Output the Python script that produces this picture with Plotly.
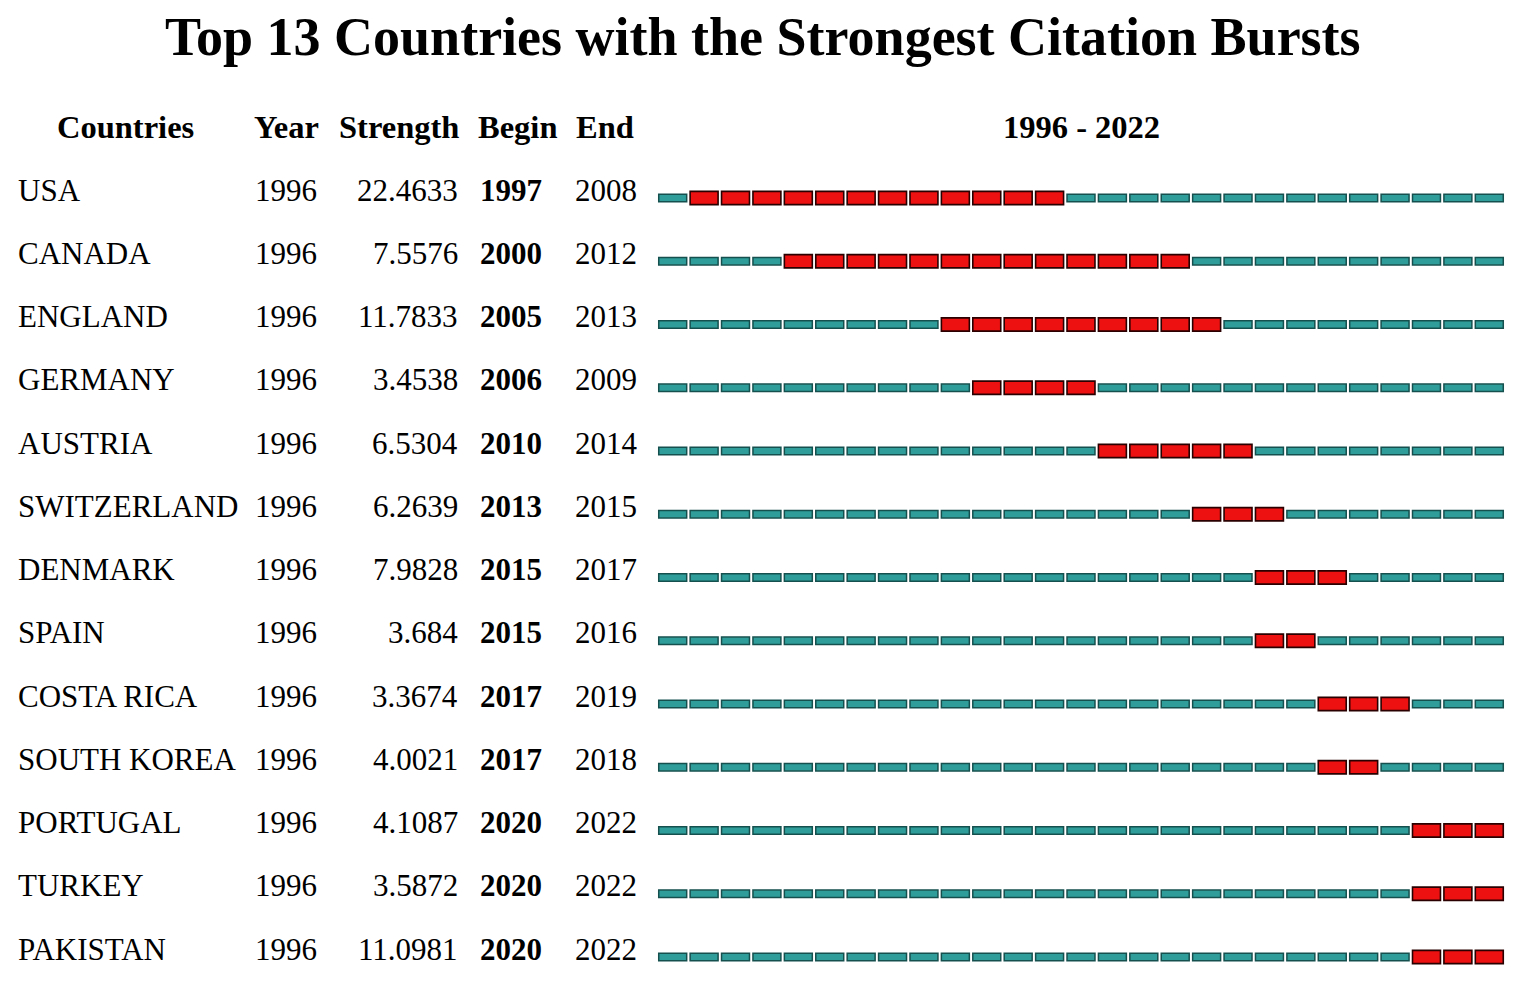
import plotly.graph_objects as go

countries = ["USA", "CANADA", "ENGLAND", "GERMANY", "AUSTRIA", "SWITZERLAND", "DENMARK",
             "SPAIN", "COSTA RICA", "SOUTH KOREA", "PORTUGAL", "TURKEY", "PAKISTAN"]
year = [1996] * 13
strength = [22.4633, 7.5576, 11.7833, 3.4538, 6.5304, 6.2639, 7.9828,
            3.684, 3.3674, 4.0021, 4.1087, 3.5872, 11.0981]
begin = [1997, 2000, 2005, 2006, 2010, 2013, 2015, 2015, 2017, 2017, 2020, 2020, 2020]
end = [2008, 2012, 2013, 2009, 2014, 2015, 2017, 2016, 2019, 2018, 2022, 2022, 2022]
span_start, span_end = 1996, 2022

OFF = 8  # page body margin
W, H = 1535 - 2 * OFF, 986 - 2 * OFF
FONT = "Liberation Serif, Times New Roman, serif"
row_px = 63.25
top_px = 198 - OFF

def px(x):
    return (x - OFF) / W

# split every year slot into burst / no-burst segments
red_x, red_y, teal_x, teal_y = [], [], [], []
for i in range(len(countries)):
    for yr in range(span_start, span_end + 1):
        if begin[i] <= yr <= end[i]:
            red_x.append(yr)
            red_y.append(i)
        else:
            teal_x.append(yr)
            teal_y.append(i)

seg = 0.89
fig = go.Figure()
fig.add_trace(go.Bar(x=[seg] * len(teal_x), base=[v - seg / 2 for v in teal_x], y=teal_y,
                     orientation="h", width=0.115,
                     marker=dict(color="#2f9e9b", line=dict(color="#15504e", width=1.5)),
                     hoverinfo="skip", showlegend=False))
fig.add_trace(go.Bar(x=[seg] * len(red_x), base=[v - seg / 2 for v in red_x], y=red_y,
                     orientation="h", width=0.21,
                     marker=dict(color="#ee1111", line=dict(color="#2a0000", width=1.6)),
                     hoverinfo="skip", showlegend=False))

fs = 31
def txt(x, y, s, anchor="left", bold=False, size=fs, ys=8):
    fig.add_annotation(x=px(x), y=y, xref="paper", yref="y", text="<b>%s</b>" % s if bold else s,
                       showarrow=False, xanchor=anchor, yanchor="middle", yshift=ys,
                       font=dict(family=FONT, size=size, color="black"))

for i in range(len(countries)):
    txt(16, i, countries[i])
    txt(286, i, str(year[i]), "center")
    txt(460, i, str(strength[i]), "right")
    txt(478, i, str(begin[i]), "left", bold=True)
    txt(606, i, str(end[i]), "center")

hy = (127 - OFF - top_px) / row_px
hs = 32.5
txt(125, hy, "Countries", "center", True, hs, 0)
txt(286, hy, "Year", "center", True, hs, 0)
txt(399, hy, "Strength", "center", True, hs, 0)
txt(517, hy, "Begin", "center", True, hs, 0)
txt(605, hy, "End", "center", True, hs, 0)
txt(1081, hy, "%d - %d" % (span_start, span_end), "center", True, hs, 0)

fig.add_annotation(x=px(763), y=1 - (37 - OFF) / H, xref="paper", yref="paper",
                   text="<b>Top 13 Countries with the Strongest Citation Bursts</b>",
                   showarrow=False, xanchor="center", yanchor="middle",
                   font=dict(family=FONT, size=54, color="black"))

fig.update_layout(
    width=W, height=H, margin=dict(l=0, r=0, t=0, b=0),
    paper_bgcolor="white", plot_bgcolor="white", barmode="overlay",
    xaxis=dict(domain=[px(657), px(1505)], range=[span_start - 0.5, span_end + 0.5], visible=False),
    yaxis=dict(domain=[0, 1], range=[(H - top_px) / row_px, -top_px / row_px], visible=False),
)
fig.write_html("out.html")
